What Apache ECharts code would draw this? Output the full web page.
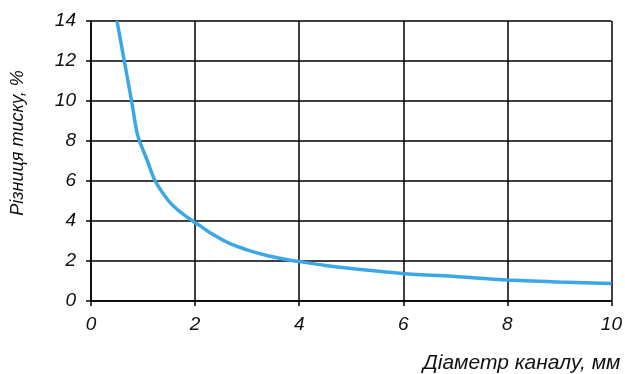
<!DOCTYPE html>
<html>
<head>
<meta charset="utf-8">
<script src="https://cdn.jsdelivr.net/npm/echarts@6/dist/echarts.min.js"></script>
<style>html,body{margin:0;padding:0;background:#fff}#c{width:625px;height:374px}</style>
</head>
<body>
<div id="c"></div>
<script>
var xValues = [0.5, 0.64, 0.78, 0.873, 0.924, 1.0, 1.077, 1.224, 1.478, 1.67, 1.925, 2.12, 2.28, 2.66, 3.04, 3.42, 3.8, 4.0, 4.5, 5, 6, 7, 8, 9, 10];
var yValues = [14, 12, 10, 8.55, 8.05, 7.55, 7.05, 6.05, 5.05, 4.55, 4.05, 3.72, 3.42, 2.88, 2.52, 2.25, 2.05, 1.97, 1.78, 1.63, 1.38, 1.22, 1.05, 0.95, 0.87];
var xTicks = [0, 2, 4, 6, 8, 10];
var yTicks = [0, 2, 4, 6, 8, 10, 12, 14];
var xName = 'Діаметр каналу, мм';
var yName = 'Різниця тиску, %';

var chart = echarts.init(document.getElementById('c'), null, {renderer: 'canvas'});
var font = 'Liberation Sans, Arial, sans-serif';
var lineStyle = {color: '#000', width: 1.5};
chart.setOption({
  animation: false,
  backgroundColor: '#fff',
  grid: {left: 91, right: 11, top: 21, bottom: 73, containLabel: false},
  xAxis: {
    type: 'value', min: xTicks[0], max: xTicks[xTicks.length - 1], interval: 2,
    name: xName, nameLocation: 'end', nameGap: 9,
    nameTextStyle: {fontFamily: font, fontStyle: 'italic', fontSize: 21, color: '#111', align: 'right', verticalAlign: 'top', padding: [52, 0, 0, 0]},
    axisLine: {show: true, lineStyle: lineStyle},
    axisTick: {show: true, length: 5, lineStyle: lineStyle},
    axisLabel: {fontFamily: font, fontStyle: 'italic', fontSize: 19, color: '#111', margin: 14},
    splitLine: {show: true, lineStyle: lineStyle}
  },
  yAxis: {
    type: 'value', min: yTicks[0], max: yTicks[yTicks.length - 1], interval: 2,
    name: yName, nameLocation: 'middle', nameRotate: 90, nameGap: 64,
    nameTextStyle: {fontFamily: font, fontStyle: 'italic', fontSize: 18, color: '#111', padding: [0, 0, 0, 36]},
    axisLine: {show: true, lineStyle: lineStyle},
    axisTick: {show: true, length: 5, lineStyle: lineStyle},
    axisLabel: {fontFamily: font, fontStyle: 'italic', fontSize: 19, color: '#111', margin: 15},
    splitLine: {show: true, lineStyle: lineStyle}
  },
  series: [{
    type: 'line',
    data: xValues.map(function (x, i) { return [x, yValues[i]]; }),
    smooth: 0.25,
    showSymbol: false,
    lineStyle: {color: '#3aa8e6', width: 3.5},
    itemStyle: {color: '#3aa8e6'}
  }]
});
</script>
</body>
</html>
